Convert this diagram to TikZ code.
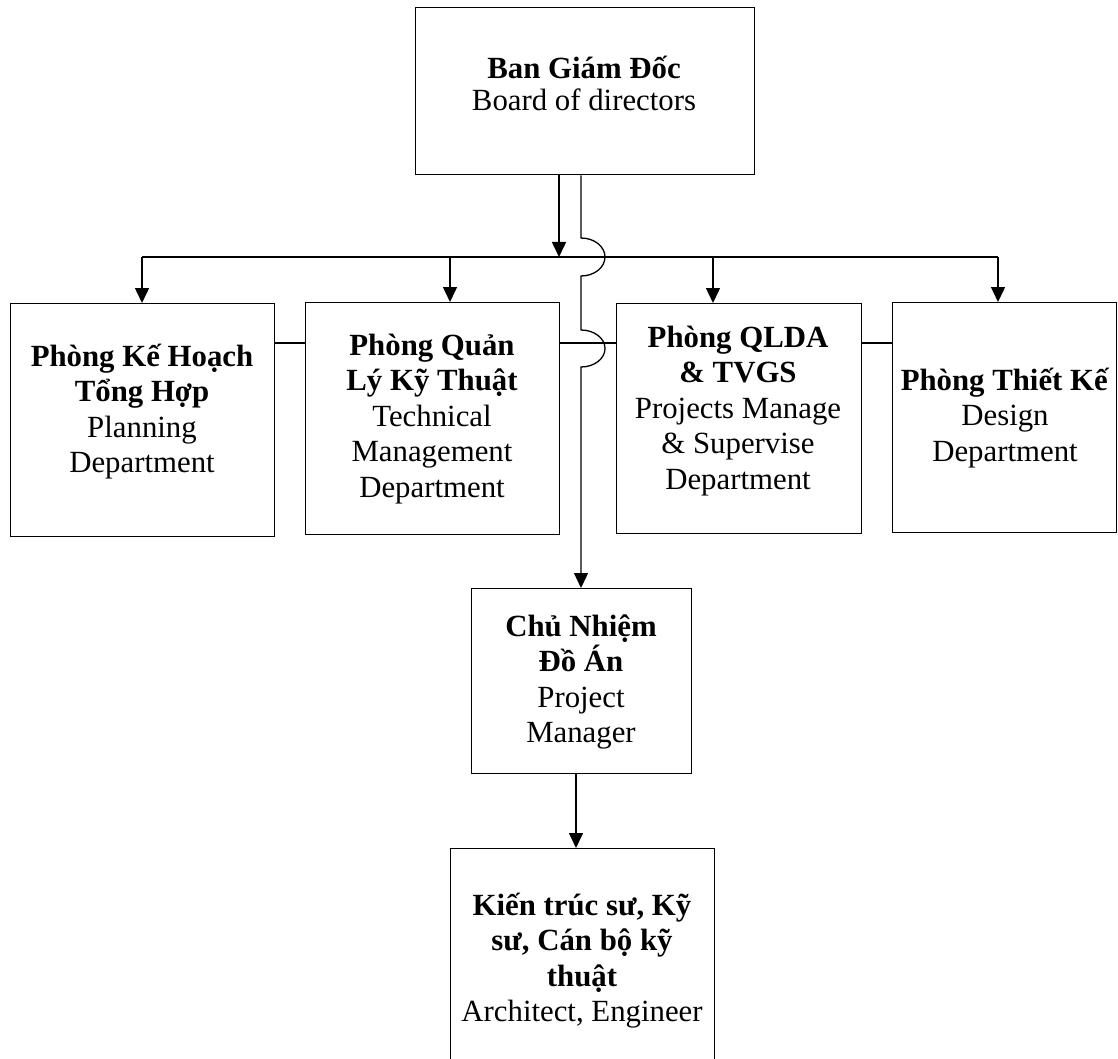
\documentclass[tikz,border=0pt]{standalone}
\usepackage{fontspec}
\setmainfont{Liberation Serif}
\usetikzlibrary{arrows.meta}
\newcommand\mystrut{\rule{0pt}{32pt}}
\begin{document}
\begin{tikzpicture}[x=1pt,y=-1pt,
  box/.style={draw, line width=1.3pt, anchor=north west, inner sep=0pt},
  lbl/.style={anchor=north, inner sep=0pt, align=center, font=\fontsize{30.8}{35.5}\selectfont},
  conn/.style={line width=1.3pt},
  arr/.style={line width=1.5pt, -{Triangle[length=15pt,width=14pt]}}]
\useasboundingbox (0,0) rectangle (1118,1059);
\clip (0,0) rectangle (1118,1059);
% boxes
\node[box, minimum width=339pt, minimum height=167pt] (b0) at (415,7) {};
\node[box, minimum width=264pt, minimum height=233pt] (b1) at (10,303) {};
\node[box, minimum width=254pt, minimum height=232pt] (b2) at (305,302) {};
\node[box, minimum width=245pt, minimum height=230pt] (b3) at (616,303) {};
\node[box, minimum width=224pt, minimum height=230pt] (b4) at (892,302) {};
\node[box, minimum width=220pt, minimum height=185pt] (b5) at (471,588) {};
\node[box, minimum width=264pt, minimum height=260pt] (b6) at (450,848) {};
% labels
\node[lbl, font=\fontsize{30.8}{32}\selectfont] (t0) at (584,46) {\mystrut\textbf{Ban Giám Đốc}\\Board of directors};
\node[lbl] (t1) at (142,334) {\mystrut\textbf{Phòng Kế Hoạch}\\\textbf{Tổng Hợp}\\Planning\\Department};
\node[lbl] (t2) at (432,323) {\mystrut\textbf{Phòng Quản}\\\textbf{Lý Kỹ Thuật}\\Technical\\Management\\Department};
\node[lbl] (t3) at (738,315) {\mystrut\textbf{Phòng QLDA}\\\textbf{\& TVGS}\\Projects Manage\\\& Supervise\\Department};
\node[lbl] (t4) at (1005,358) {\mystrut\textbf{Phòng Thiết Kế}\\Design\\Department};
\node[lbl] (t5) at (581,604) {\mystrut\textbf{Chủ Nhiệm}\\\textbf{Đồ Án}\\Project\\Manager};
\node[lbl] (t6) at (582,883) {\mystrut\textbf{Kiến trúc sư, Kỹ}\\\textbf{sư, Cán bộ kỹ}\\\textbf{thuật}\\Architect, Engineer};
% junction coordinates on the distribution line
\coordinate (hj) at (559,257);
\coordinate (j1) at (142,257);
\coordinate (j2) at (450,257);
\coordinate (j3) at (713,257);
\coordinate (j4) at (998,257);
% main arrow and distribution line
\draw[arr] (b0.south -| hj) -- (hj);
\draw[conn] (j1) -- (j4);
\draw[arr] (j1) -- (j1 |- b1.north);
\draw[arr] (j2) -- (j2 |- b2.north);
\draw[arr] (j3) -- (j3 |- b3.north);
\draw[arr] (j4) -- (j4 |- b4.north);
% side connectors between departments
\coordinate (s) at (0,343);
\draw[conn] (b1.east |- s) -- (b2.west |- s);
\draw[conn] (b2.east |- s) -- (b3.west |- s);
\draw[conn] (b3.east |- s) -- (b4.west |- s);
% line with hops down to project manager
\coordinate (v) at (581,0);
\draw[line width=1.3pt, -{Triangle[length=15pt,width=14pt]}]
  (b0.south -| v) -- (581,238) arc[start angle=-90, end angle=90, x radius=24, y radius=19]
  -- (581,330) arc[start angle=-90, end angle=90, x radius=24, y radius=18.5]
  -- (b5.north -| v);
% arrow to bottom box
\coordinate (w) at (576,0);
\draw[arr] (b5.south -| w) -- (b6.north -| w);
\end{tikzpicture}
\end{document}
